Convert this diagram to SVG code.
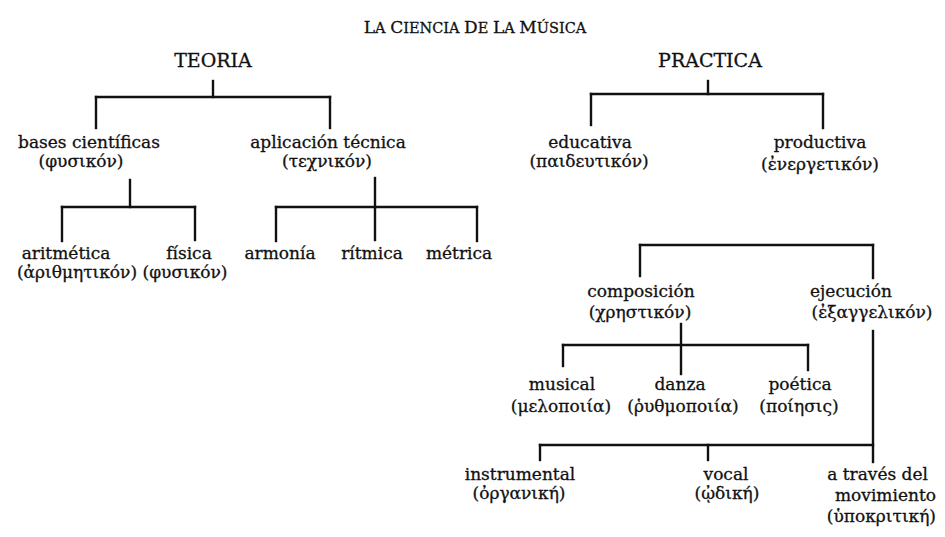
<svg xmlns="http://www.w3.org/2000/svg" width="945" height="537" viewBox="0 0 945 537">
<style>
text{font-family:"DejaVu Serif","Liberation Serif",serif;fill:#111;stroke:#111;stroke-width:0.3;text-anchor:middle;font-size:17px}
.h{font-size:19px}
.t{font-size:14.5px}
.t .b{font-size:17px}
.r{text-anchor:end}
#connectors line{stroke:#111;stroke-width:2.4;stroke-linecap:square}
</style>
<rect width="945" height="537" fill="#fff"/>
<g id="title"><text class="t" x="475" y="33"><tspan class="b">L</tspan>A <tspan class="b">C</tspan>IENCIA <tspan class="b">D</tspan>E <tspan class="b">L</tspan>A <tspan class="b">M</tspan>ÚSICA</text></g>
<g id="connectors">
<line x1="213" y1="81" x2="213" y2="97"/>
<line x1="96" y1="97" x2="330" y2="97"/>
<line x1="96" y1="97" x2="96" y2="128"/>
<line x1="330" y1="97" x2="330" y2="128"/>
<line x1="130" y1="180" x2="130" y2="207"/>
<line x1="62" y1="207" x2="195" y2="207"/>
<line x1="62" y1="207" x2="62" y2="241"/>
<line x1="195" y1="207" x2="195" y2="240"/>
<line x1="375" y1="178" x2="375" y2="240"/>
<line x1="276" y1="207" x2="477" y2="207"/>
<line x1="276" y1="207" x2="276" y2="241"/>
<line x1="477" y1="207" x2="477" y2="241"/>
<line x1="708" y1="81" x2="708" y2="94"/>
<line x1="591" y1="94" x2="823" y2="94"/>
<line x1="591" y1="94" x2="591" y2="125"/>
<line x1="823" y1="94" x2="823" y2="128"/>
<line x1="640" y1="245" x2="873" y2="245"/>
<line x1="640" y1="245" x2="640" y2="276"/>
<line x1="873" y1="245" x2="873" y2="278"/>
<line x1="681" y1="324" x2="681" y2="374"/>
<line x1="563" y1="345" x2="808" y2="345"/>
<line x1="563" y1="345" x2="563" y2="366"/>
<line x1="808" y1="345" x2="808" y2="370"/>
<line x1="873" y1="331" x2="873" y2="462"/>
<line x1="540" y1="445" x2="873" y2="445"/>
<line x1="540" y1="445" x2="540" y2="460"/>
<line x1="708" y1="445" x2="708" y2="460"/>
</g>
<g id="teoria"><text class="h" x="213" y="67">TEORIA</text></g>
<g id="practica"><text class="h" x="710" y="67">PRACTICA</text></g>
<g id="bases"><text x="89" y="148">bases científicas</text><text x="81" y="167">(φυσικόν)</text></g>
<g id="aplicacion"><text x="328" y="148">aplicación técnica</text><text x="327" y="167">(τεχνικόν)</text></g>
<g id="aritmetica"><text x="66" y="259">aritmética</text><text x="77" y="278">(ἀριθμητικόν)</text></g>
<g id="fisica"><text x="189" y="259">física</text><text x="185" y="278">(φυσικόν)</text></g>
<g id="armonia"><text x="280" y="259">armonía</text></g>
<g id="ritmica"><text x="372" y="259">rítmica</text></g>
<g id="metrica"><text x="459" y="259">métrica</text></g>
<g id="educativa"><text x="590" y="148">educativa</text><text x="589" y="167">(παιδευτικόν)</text></g>
<g id="productiva"><text x="820" y="148">productiva</text><text x="820" y="170">(ἐνεργετικόν)</text></g>
<g id="composicion"><text x="641" y="297">composición</text><text x="640" y="318">(χρηστικόν)</text></g>
<g id="ejecucion"><text x="851" y="297">ejecución</text><text x="872" y="318">(ἐξαγγελικόν)</text></g>
<g id="musical"><text x="562" y="390">musical</text><text x="561" y="412">(μελοποιία)</text></g>
<g id="danza"><text x="680" y="390">danza</text><text x="683" y="412">(ῥυθμοποιία)</text></g>
<g id="poetica"><text x="800" y="390">poética</text><text x="799" y="412">(ποίησις)</text></g>
<g id="instrumental"><text x="520" y="480">instrumental</text><text x="519" y="499">(ὀργανική)</text></g>
<g id="vocal"><text x="726" y="480">vocal</text><text x="727" y="499">(ᾠδική)</text></g>
<g id="movimiento"><text class="r" x="928" y="480">a través del</text><text class="r" x="936" y="501">movimiento</text><text class="r" x="936" y="522">(ὑποκριτική)</text></g>
</svg>
